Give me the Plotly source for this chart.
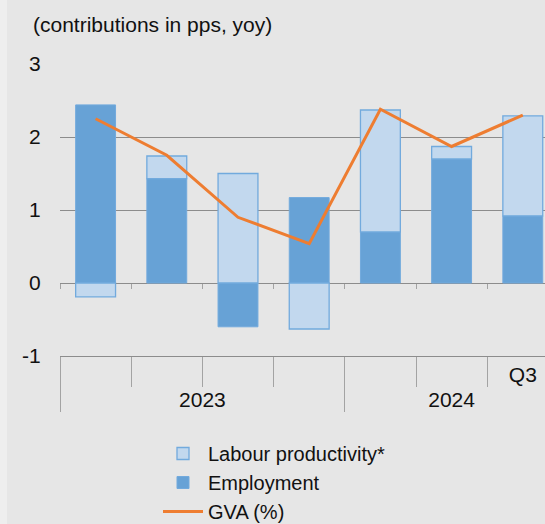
import plotly.graph_objects as go

# ---- data ----
quarters = ["2023 Q1", "2023 Q2", "2023 Q3", "2023 Q4", "2024 Q1", "2024 Q2", "2024 Q3"]
years = ["2023", "2023", "2023", "2023", "2024", "2024", "2024"]
quarter_labels = [" ", "  ", "   ", "    ", " ", "  ", "Q3"]
y_ticks = [-1, 0, 1, 2, 3]
employment = [2.44, 1.43, -0.60, 1.17, 0.70, 1.70, 0.92]
labour_productivity = [-0.19, 0.31, 1.50, -0.63, 1.67, 0.17, 1.37]
gva = [2.25, 1.75, 0.90, 0.54, 2.38, 1.87, 2.30]

# ---- styles ----
W, H = 545, 524
ML, MR, MT, MB = 60, 0, 64, 168
PW = W - ML - MR
PH = H - MT - MB
BG = "#e6e6e6"
GRID = "#8c8c8c"
TICKC = "#a3a3a3"
DARK = "#67a2d6"
LIGHT = "#c2d8ee"
EDGE = "#72aadd"
ORANGE = "#ee7d31"
FONT = "Liberation Sans, Arial, sans-serif"
FS = 21

slot = 71.2  # px per category
x_range = [-0.5, -0.5 + PW / slot]

fig = go.Figure()

fig.add_trace(go.Bar(
    x=quarters, y=employment, name="Employment",
    marker=dict(color=DARK, line=dict(color=EDGE, width=1)),
    width=0.56, legendrank=2,
))
fig.add_trace(go.Bar(
    x=quarters, y=labour_productivity, name="Labour productivity*",
    marker=dict(color=LIGHT, line=dict(color=EDGE, width=1.3)),
    width=0.56, legendrank=1,
))
fig.add_trace(go.Scatter(
    x=quarters, y=gva, name="GVA (%)", mode="lines",
    line=dict(color=ORANGE, width=3), legendrank=3,
))

# helper (invisible) traces that carry the category axes
fig.add_trace(go.Scatter(
    x=[years, quarter_labels], y=gva, xaxis="x2", mode="markers",
    marker=dict(opacity=0), showlegend=False, hoverinfo="skip",
))
fig.add_trace(go.Scatter(
    x=quarters, y=gva, xaxis="x3", mode="markers",
    marker=dict(opacity=0), showlegend=False, hoverinfo="skip",
))
fig.add_trace(go.Scatter(
    x=quarters, y=gva, xaxis="x4", mode="markers",
    marker=dict(opacity=0), showlegend=False, hoverinfo="skip",
))

fig.update_layout(
    width=W, height=H,
    margin=dict(l=ML, r=MR, t=MT, b=MB, pad=0),
    paper_bgcolor=BG, plot_bgcolor=BG,
    barmode="relative",
    font=dict(family=FONT, size=FS, color="#111111"),
    title=dict(
        text="(contributions in pps, yoy)", xref="container", yref="container",
        x=33 / W, xanchor="left", y=1 - 25 / H, yanchor="middle",
        font=dict(family=FONT, size=FS, color="#111111"),
    ),
    xaxis=dict(
        type="category", range=x_range, visible=False, fixedrange=True,
    ),
    xaxis2=dict(
        type="multicategory", overlaying="x", anchor="y", range=x_range,
        showline=True, linecolor=GRID, linewidth=1.3,
        ticks="outside", ticklen=3, tickcolor="rgba(0,0,0,0)",
        showgrid=False, showdividers=True,
        dividercolor=TICKC, dividerwidth=1.3,
        tickfont=dict(family=FONT, size=FS, color="#111111"),
    ),
    xaxis3=dict(
        type="category", overlaying="x", anchor="y", range=x_range,
        tickson="boundaries", ticks="outside", ticklen=30, tickwidth=1.3,
        tickcolor=TICKC, showticklabels=False, showgrid=False, showline=False,
    ),
    xaxis4=dict(
        type="category", overlaying="x", anchor="free", position=0.25,
        range=x_range,
        tickson="boundaries", ticks="outside", ticklen=5, tickwidth=1.3,
        tickcolor=TICKC, showticklabels=False, showgrid=False, showline=False,
    ),
    yaxis=dict(
        range=[-1, 3], tickvals=y_ticks, ticktext=[str(v) for v in y_ticks],
        showgrid=True, gridcolor=GRID, gridwidth=1.3,
        zeroline=True, zerolinecolor=GRID, zerolinewidth=1.3,
        ticks="outside", ticklen=14, tickcolor="rgba(0,0,0,0)",
        tickfont=dict(family=FONT, size=FS, color="#111111"),
        showline=False, fixedrange=True,
    ),
    legend=dict(
        xref="paper", yref="container",
        x=(158 - ML) / PW, xanchor="left",
        y=1 - 434 / H, yanchor="top",
        bgcolor="rgba(0,0,0,0)", traceorder="normal",
        font=dict(family=FONT, size=20, color="#111111"),
        itemwidth=40, tracegroupgap=0,
    ),
    showlegend=True,
    shapes=[dict(
        type="rect", xref="paper", yref="paper",
        x0=-ML / PW, x1=(7 - ML) / PW, y0=-MB / PH, y1=(PH + MT) / PH,
        fillcolor="#eeeeee", line=dict(width=0), layer="below",
    )],
)

fig.write_html("out.html")
